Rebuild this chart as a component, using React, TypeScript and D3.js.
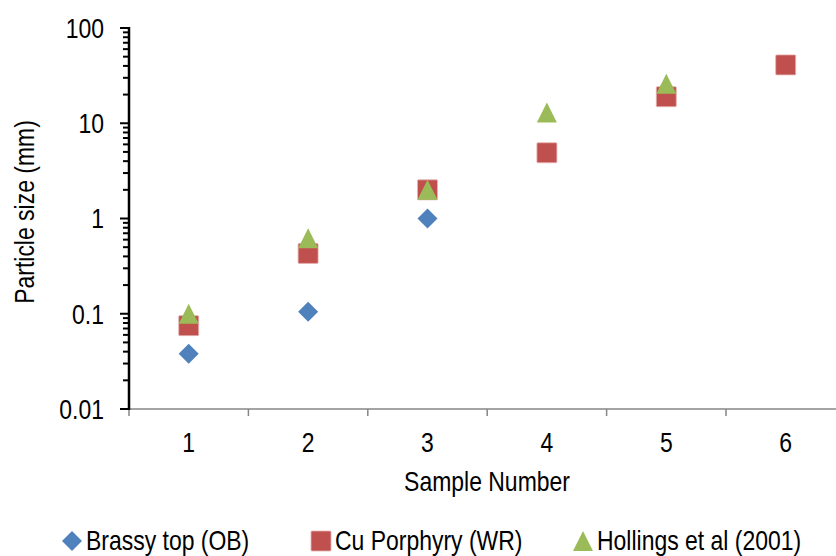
import React from "react";
import * as d3 from "d3";

const categories = ["1", "2", "3", "4", "5", "6"];
const brassyTop = [0.038, 0.105, 1.0];
const cuPorphyry = [0.075, 0.43, 2.0, 4.9, 19, 41];
const hollings = [0.1, 0.62, 2.0, 13, 26];
const yTickValues = [0.01, 0.1, 1, 10, 100];
const yTickLabels = ["0.01", "0.1", "1", "10", "100"];
const seriesNames = ["Brassy top (OB)", "Cu Porphyry (WR)", "Hollings et al (2001)"];
const colors = ["#4F81BD", "#C0504D", "#9BBB59"];

const W = 836;
const H = 556;
const FONT = "'Liberation Sans', Arial, sans-serif";
const FS = 28;
const SX = 0.82;

function NText({ x, y, anchor = "start", rotate = 0, dy, children }: any) {
  return (
    <text
      transform={`translate(${x},${y}) rotate(${rotate}) scale(${SX},1)`}
      textAnchor={anchor}
      dy={dy}
      fontSize={FS}
      fill="#000"
    >
      {children}
    </text>
  );
}

function Marker({ kind, cx, cy, color }: { kind: number; cx: number; cy: number; color: string }) {
  const s = 10;
  if (kind === 0) {
    const p = `M${cx},${cy - s}L${cx + s},${cy}L${cx},${cy + s}L${cx - s},${cy}Z`;
    return <path d={p} fill={color} />;
  }
  if (kind === 1) {
    return <rect x={cx - s} y={cy - s} width={2 * s} height={2 * s} fill={color} stroke="#E6B4B3" strokeWidth={0.8} rx={1} />;
  }
  const p = `M${cx},${cy - s}L${cx + s},${cy + s}L${cx - s},${cy + s}Z`;
  return <path d={p} fill={color} />;
}

export default function App() {
  const x = d3.scaleBand<string>().domain(categories).range([129, 129 + 6 * 119.4]);
  const y = d3.scaleLog().domain([0.01, 100]).range([409, 28]);
  const cx = (i: number) => (x(categories[i]) as number) + x.bandwidth() / 2;

  const minorTicks: number[] = [];
  for (let e = -2; e < 2; e++) {
    for (let m = 2; m <= 9; m++) minorTicks.push(m * Math.pow(10, e));
  }
  const series = [brassyTop, cuPorphyry, hollings];
  const bandTicks = d3.range(0, categories.length + 1).map((i) => 129 + i * x.bandwidth());

  const legendX = [62, 311, 573];
  const legendTextX = [86, 335, 597];

  return (
    <svg width={W} height={H} style={{ position: "absolute", left: 0, top: 0, background: "#fff" }} fontFamily={FONT}>
      <rect width={W} height={H} fill="#fff" />
      {/* x axis */}
      <line x1={129} x2={W} y1={409} y2={409} stroke="#868686" strokeWidth={1.5} />
      {bandTicks.map((t, i) => (
        <line key={i} x1={t} x2={t} y1={409} y2={416} stroke="#868686" strokeWidth={1.5} />
      ))}
      {categories.map((c, i) => (
        <NText key={c} x={cx(i)} y={452} anchor="middle">
          {c}
        </NText>
      ))}
      <NText x={487} y={491} anchor="middle">
        Sample Number
      </NText>
      {/* y axis */}
      {minorTicks.map((t, i) => (
        <line key={"m" + i} x1={123} x2={129} y1={y(t)} y2={y(t)} stroke="#000" strokeWidth={2} />
      ))}
      {yTickValues.map((t, i) => (
        <g key={"t" + i}>
          <line x1={120} x2={129} y1={y(t)} y2={y(t)} stroke="#000" strokeWidth={2} />
          <NText x={104} y={y(t)} dy="0.35em" anchor="end">
            {yTickLabels[i]}
          </NText>
        </g>
      ))}
      <line x1={129} x2={129} y1={27} y2={410} stroke="#000" strokeWidth={2.5} />
      <NText x={34} y={212} rotate={-90} anchor="middle">
        Particle size (mm)
      </NText>
      {/* points */}
      {series.map((vals, si) =>
        vals.map((v, i) => <Marker key={si + "-" + i} kind={si} cx={cx(i)} cy={y(v)} color={colors[si]} />)
      )}
      {/* legend */}
      {seriesNames.map((n, i) => (
        <g key={n}>
          <Marker kind={i} cx={legendX[i] + 10} cy={541} color={colors[i]} />
          <NText x={legendTextX[i]} y={550}>
            {n}
          </NText>
        </g>
      ))}
    </svg>
  );
}
